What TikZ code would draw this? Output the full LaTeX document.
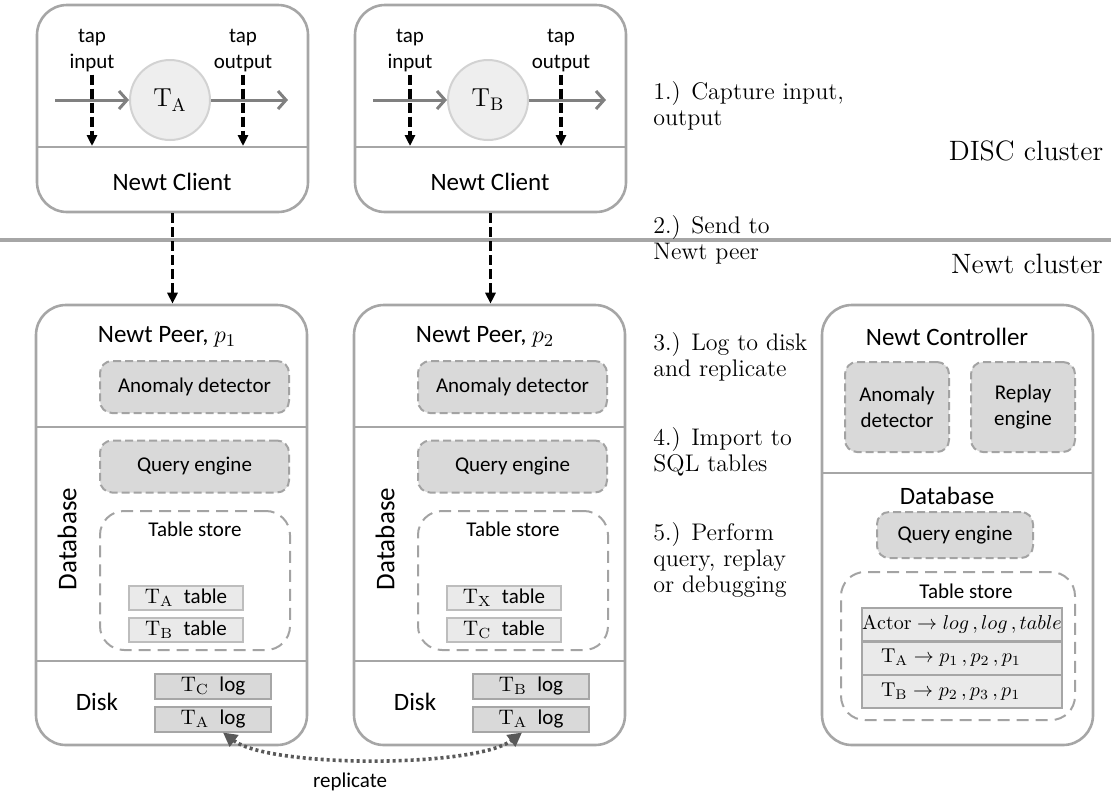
\documentclass[tikz,border=0pt]{standalone}
\usepackage{fontspec}
\newfontfamily\carlito{Carlito}
\usetikzlibrary{arrows.meta,positioning,calc}
\definecolor{framegray}{HTML}{A6A6A6}
\definecolor{dashgray}{HTML}{A3A3A3}
\definecolor{boxfill}{HTML}{D9D9D9}
\definecolor{rowfill}{HTML}{EAEAEA}
\definecolor{rowline}{HTML}{BDBDBD}
\definecolor{flowgray}{HTML}{808080}
\definecolor{replgray}{HTML}{595959}
\definecolor{taskfill}{HTML}{EEEEEE}
\definecolor{taskline}{HTML}{D2D2D2}

\begin{document}
\begin{tikzpicture}[
  x=0.5pt, y=-0.5pt,
  outerbox/.style={draw=framegray, line width=1.3pt, rounded corners=15pt, inner sep=0pt},
  divider/.style={draw=framegray, line width=1.3pt},
  part/.style={draw=dashgray, fill=boxfill, line width=1pt, dash pattern=on 4pt off 2pt, rounded corners=6pt, minimum width=94.5pt, minimum height=26pt, align=center, font=\carlito\fontsize{10.5}{13}\selectfont},
  store/.style={draw=dashgray, line width=1pt, dash pattern=on 6pt off 3.5pt, rounded corners=12pt},
  tablerow/.style={draw=rowline, fill=rowfill, line width=1pt, minimum width=57pt, minimum height=12pt, inner sep=0pt, font=\carlito\fontsize{10.5}{12}\selectfont},
  logrow/.style={draw=framegray, fill=boxfill, line width=1pt, minimum width=58pt, minimum height=12.5pt, inner sep=0pt, font=\carlito\fontsize{10.5}{12}\selectfont},
  maprow/.style={draw=framegray, fill=rowfill, line width=1pt, minimum width=100pt, minimum height=16.5pt, inner sep=0pt, font=\fontsize{10}{12}\selectfont},
  task/.style={circle, draw=taskline, fill=taskfill, line width=1pt, minimum size=40pt, inner sep=0pt, font=\fontsize{13}{15}\selectfont},
  title/.style={font=\carlito\fontsize{12.5}{15}\selectfont},
  small/.style={align=center, inner sep=1pt, font=\carlito\fontsize{10.5}{13}\selectfont},
  stepnote/.style={anchor=west, align=left, inner sep=0pt, font=\fontsize{12}{13}\selectfont},
  cluster/.style={font=\fontsize{14}{16}\selectfont},
  flow/.style={draw=flowgray, line width=1.5pt, -{Straight Barb[length=4pt,width=9pt]}},
  tap/.style={draw=black, line width=1.6pt, dash pattern=on 5pt off 2pt, -{Triangle[length=5.5pt,width=5pt]}},
  repl/.style={draw=replgray, line width=1.8pt, dash pattern=on 1.5pt off 1.5pt, {Triangle[length=7pt,width=7pt]}-{Triangle[length=7pt,width=7pt]}},
]
\useasboundingbox (0,0) rectangle (1111,794);

% cluster border
\draw[divider, line width=1.6pt] (0,240) -- (1111,240);

% two clients with their peers
\foreach \dx/\nm/\idx/\ta/\tb/\la/\lb in {0/A/1/A/B/C/A, 318/B/2/X/C/B/A} {
\begin{scope}[xshift=\dx*0.5pt]
  % Newt client
  \node[outerbox, minimum width=135.5pt, minimum height=103.5pt] (client\nm) at (172.5,108.5) {};
  \draw[divider] (37,147) -- (308,147);
  \node[task] (task\nm) at (170,100) {$\mathrm{T_{\nm}}$};
  \coordinate (in\nm) at (55,100);
  \coordinate (out\nm) at (288,100);
  \draw[flow] (in\nm) -- (task\nm);
  \draw[flow] (task\nm) -- (out\nm);
  \node[small] (tapin\nm) at (92,51) {tap\\input};
  \node[small] (tapout\nm) at (243,51) {tap\\output};
  \coordinate (tapinend\nm) at (92,146);
  \coordinate (tapoutend\nm) at (243,146);
  \draw[tap] (tapin\nm) -- (tapinend\nm);
  \draw[tap] (tapout\nm) -- (tapoutend\nm);
  \node[title] (clientlbl\nm) at (172,182) {Newt Client};

  % Newt peer
  \node[outerbox, minimum width=135.5pt, minimum height=220pt] (peer\nm) at (171.5,525) {};
  \draw[divider] (36,427) -- (307,427);
  \draw[divider] (36,661) -- (307,661);
  \node[title] (peerlbl\nm) at (167,337) {Newt Peer, $p_{\idx}$};
  \node[part] (anom\nm) at (194.5,387) {Anomaly detector};
  \node[part] (query\nm) at (194.5,466.5) {Query engine};
  \node[store, minimum width=95pt, minimum height=69.5pt] (store\nm) at (195,580.5) {};
  \node[small] (storelbl\nm) at (195,529) {Table store};
  \node[tablerow] (tab\nm1) at (186,597.5) {$\mathrm{T_{\ta}}$\enspace table};
  \node[tablerow] (tab\nm2) at (186,630) {$\mathrm{T_{\tb}}$\enspace table};
  \node[title, rotate=90, font=\carlito\fontsize{13.5}{15}\selectfont] (db\nm) at (67,539) {Database};
  \node[title] (disk\nm) at (97,702) {Disk};
  \node[logrow] (log\nm1) at (213,686) {$\mathrm{T_{\la}}$\enspace log};
  \node[logrow] (log\nm2) at (213,719) {$\mathrm{T_{\lb}}$\enspace log};
\end{scope}
}

% client -> peer
\draw[tap] (clientA.south) -- (clientA.south |- peerA.north);
\draw[tap] (clientB.south) -- (clientB.south |- peerB.north);

% log replication
\draw[repl] ([xshift=5pt]logA2.south) .. controls (270,768) and (475,768) .. ([xshift=-4.5pt]logB2.south);
\node[small] (repllbl) at (350,782) {replicate};

% Newt controller
\node[outerbox, minimum width=135.5pt, minimum height=220pt] (ctrl) at (957.5,525) {};
\draw[divider] (822,473) -- (1093,473);
\node[title] (ctrllbl) at (947,337) {Newt Controller};
\node[part, minimum width=52pt, minimum height=45pt] (ctrlanom) at (897,407) {Anomaly\\detector};
\node[part, minimum width=52pt, minimum height=45pt] (replay) at (1023,407) {Replay\\engine};
\node[title] (ctrldb) at (947,496) {Database};
\node[part, minimum width=78pt, minimum height=23pt] (ctrlquery) at (955,535) {Query engine};
\node[store, minimum width=117pt, minimum height=74pt] (ctrlstore) at (958,646) {};
\node[small] (ctrlstorelbl) at (966,591) {Table store};
\node[maprow] (actormap) at (962,624.5) {$\mathrm{Actor}\rightarrow log\,, log\,, table$};
\node[maprow, text width=81pt, inner xsep=9.5pt, align=left] (tamap) at (962,658) {$\mathrm{T_A}\rightarrow p_1\,, p_2\,, p_1$};
\node[maprow, text width=81pt, inner xsep=9.5pt, align=left] (tbmap) at (962,691.5) {$\mathrm{T_B}\rightarrow p_2\,, p_3\,, p_1$};

% steps
\node[stepnote] (step1) at (653,106) {1.) Capture input,\\output};
\node[stepnote] (step2) at (653,240) {2.) Send to\\Newt peer};
\node[stepnote] (step3) at (653,357) {3.) Log to disk\\and replicate};
\node[stepnote] (step4) at (653,452) {4.) Import to\\SQL tables};
\node[stepnote] (step5) at (653,560) {5.) Perform\\query, replay\\or debugging};

\node[cluster] (disc) at (1026,151) {DISC cluster};
\node[cluster] (newtcl) at (1027,264) {Newt cluster};
\end{tikzpicture}
\end{document}
